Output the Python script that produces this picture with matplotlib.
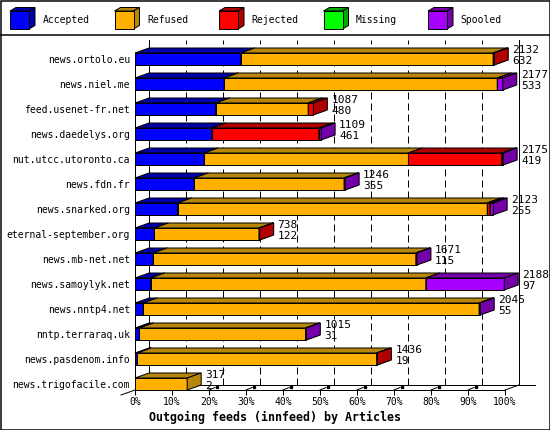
import matplotlib
matplotlib.use('Agg')
import matplotlib.pyplot as plt
import matplotlib.transforms as mtransforms
from matplotlib.patches import Polygon, Rectangle

# ---- data (percent of offered articles per feed) ----
hosts = ['news.ortolo.eu', 'news.niel.me', 'feed.usenet-fr.net', 'news.daedelys.org',
         'nut.utcc.utoronto.ca', 'news.fdn.fr', 'news.snarked.org', 'eternal-september.org',
         'news.mb-net.net', 'news.samoylyk.net', 'news.nntp4.net', 'nntp.terraraq.uk',
         'news.pasdenom.info', 'news.trigofacile.com']
accepted = [28.6, 24.1, 21.8, 20.7, 18.7, 16.0, 11.5, 5.2, 4.9, 4.2, 2.2, 1.2, 0.6, 0.0]
refused = [68.2, 73.8, 25.0, 0.0, 55.2, 40.5, 83.7, 28.3, 71.0, 74.4, 90.8, 44.9, 64.7, 14.1]
rejected = [0.3, 0.0, 1.4, 29.0, 25.2, 0.0, 0.7, 0.2, 0.0, 0.0, 0.0, 0.0, 0.2, 0.0]
missing = [0.0] * 14
spooled = [0.0, 1.5, 0.0, 0.6, 0.4, 0.3, 0.9, 0.0, 0.3, 21.2, 0.3, 0.2, 0.0, 0.0]
offered = [2132, 2177, 1087, 1109, 2175, 1246, 2123, 738, 1671, 2188, 2045, 1015, 1436, 317]
second = [632, 533, 480, 461, 419, 355, 255, 122, 115, 97, 55, 31, 19, 2]
series_names = ['Accepted', 'Refused', 'Rejected', 'Missing', 'Spooled']
pct_ticks = list(range(0, 101, 10))

FRONT = ['#0000ff', '#ffb000', '#ff0000', '#00ff00', '#a800ff']
SHADE = ['#0000a8', '#b8860b', '#b00000', '#00a800', '#7400a8']
DX, DY = 14, 5          # depth offset in pixels
PX = 0.72               # points per pixel at 100 dpi
W, H = 550, 430

plt.rcParams['font.family'] = ['DejaVu Sans Mono']
plt.rcParams['font.size'] = 7
plt.rcParams['lines.scale_dashes'] = False

fig = plt.figure(figsize=(W / 100, H / 100), dpi=100)
fig.patch.set_facecolor('white')

# overlay in pixel coords for frame + legend
ov = fig.add_axes([0, 0, 1, 1])
ov.set_xlim(0, W)
ov.set_ylim(H, 0)
ov.axis('off')
ov.add_patch(Rectangle((0.5, 0.5), W - 1, H - 1, fill=False, ec='black', lw=1.5 * PX))
ov.plot([0, W], [35, 35], color='black', lw=1.5 * PX)

for k, name in enumerate(series_names):
    x0 = 10 + 104.5 * k
    ov.add_patch(Polygon([(x0, 11), (x0 + 19, 11), (x0 + 25, 7.5), (x0 + 6, 7.5)],
                         fc=SHADE[k], ec='black', lw=PX))
    ov.add_patch(Polygon([(x0 + 19, 11), (x0 + 25, 7.5), (x0 + 25, 25.5), (x0 + 19, 29)],
                         fc=SHADE[k], ec='black', lw=PX))
    ov.add_patch(Rectangle((x0, 11), 19, 18, fc=FRONT[k], ec='black', lw=PX))
    ov.text(x0 + 32.5, 20, name, va='center', ha='left', fontsize=7)

ov.text(W / 2, 417, 'Outgoing feeds (innfeed) by Articles', ha='center', va='center',
        fontsize=8.4, fontweight='bold')

# ---- main axes: front plane ----
n = len(hosts)
ax = fig.add_axes([135 / W, (H - 390) / H, 370 / W, 345 / H])
ybot = n - 1 + 6 / 25
ytop = ybot - 345 / 25
ax.set_xlim(0, 100)
ax.set_ylim(ybot, ytop)
ax.patch.set_visible(False)
for s in ('top', 'right'):
    ax.spines[s].set_visible(False)
ax.spines['left'].set_bounds(ybot, -0.24)
ax.spines['left'].set_linewidth(PX)
ax.spines['bottom'].set_linewidth(PX)

ax.set_yticks(range(n))
ax.set_yticklabels(hosts)
ax.tick_params(axis='y', length=0, pad=5 * PX, labelsize=7)
ax.set_xticks(pct_ticks)
ax.set_xticklabels([f'{p}%' for p in pct_ticks])
ax.tick_params(axis='x', direction='out', length=5 * PX, width=PX, pad=2 * PX, labelsize=7)

back = ax.transData + mtransforms.Affine2D().translate(DX, DY)
ident = mtransforms.IdentityTransform()

# back wall
for p in pct_ticks:
    ls = '-' if p in (0, 100) else (0, (7 * PX, 4 * PX))
    ax.plot([p, p], [ybot, ytop], transform=back, color='black', lw=PX, ls=ls,
            clip_on=False, zorder=1)

# floor edges
b0 = back.transform((0, ybot))
b1 = back.transform((100, ybot))
f0 = ax.transData.transform((0, ybot))
f1 = ax.transData.transform((100, ybot))
ax.plot([b0[0], b1[0] + 16], [b0[1], b1[1]], transform=ident, color='black', lw=PX,
        clip_on=False, zorder=1)
ax.plot([f1[0], b1[0]], [f1[1], b1[1]], transform=ident, color='black', lw=PX,
        clip_on=False, zorder=1)
ax.plot([b0[0], f0[0] - DX], [b0[1], f0[1] - DY], transform=ident, color='black', lw=PX,
        clip_on=False, zorder=1)
for p in pct_ticks[1:-1]:
    fx, fy = ax.transData.transform((p, ybot))
    ax.plot([fx, fx + 6], [fy, fy + 2.5], transform=ident, color='black', lw=PX,
            clip_on=False, zorder=1)
    ax.plot([fx + 8], [fy + 3], transform=ident, marker='s', ms=2.5 * PX, color='black',
            clip_on=False, zorder=1)

# stacked pseudo-3D bars
series = [accepted, refused, rejected, missing, spooled]
for i in range(n):
    start = 0.0
    for k, vals in enumerate(series):
        v = vals[i]
        if v <= 0:
            continue
        x0, yt = ax.transData.transform((start, i - 0.24))
        x1, yb = ax.transData.transform((start + v, i + 0.24))
        faces = [
            ([(x0, yb), (x1, yb), (x1, yt), (x0, yt)], FRONT[k]),
            ([(x0, yt), (x1, yt), (x1 + DX, yt + DY), (x0 + DX, yt + DY)], SHADE[k]),
            ([(x1, yb), (x1, yt), (x1 + DX, yt + DY), (x1 + DX, yb + DY)], SHADE[k]),
        ]
        for pts, c in faces:
            ax.add_patch(Polygon(pts, closed=True, fc=c, ec='black', lw=PX,
                                 transform=ident, clip_on=False, zorder=3))
        start += v
    ax.annotate(str(offered[i]), xy=(start, i), xytext=(18 * PX, 9 * PX),
                textcoords='offset points', ha='left', va='center', fontsize=8,
                annotation_clip=False, zorder=4)
    ax.annotate(str(second[i]), xy=(start, i), xytext=(18 * PX, -1.8 * PX),
                textcoords='offset points', ha='left', va='center', fontsize=8,
                annotation_clip=False, zorder=4)

fig.savefig('out.png', dpi=100, facecolor='white')
